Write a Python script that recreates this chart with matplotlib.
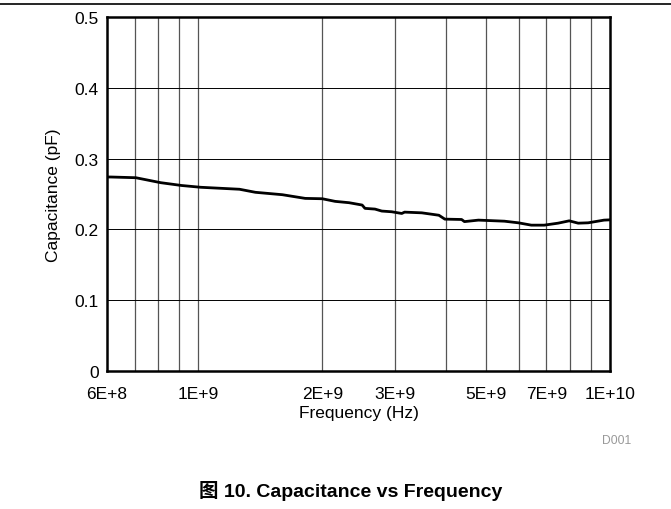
import matplotlib.pyplot as plt
import matplotlib.ticker as mticker

plt.rcParams['font.family'] = ['Liberation Sans', 'Noto Sans CJK SC', 'DejaVu Sans']

# данные
freq_hz = [6.00e8, 6.13e8, 7.05e8, 8.10e8, 9.11e8, 1.013e9, 1.259e9, 1.376e9,
           1.60e9, 1.818e9, 2.0e9, 2.149e9, 2.324e9, 2.50e9, 2.54e9, 2.686e9,
           2.79e9, 2.95e9, 3.12e9, 3.17e9, 3.49e9, 3.84e9, 3.97e9, 4.36e9,
           4.43e9, 4.79e9, 5.54e9, 5.99e9, 6.44e9, 6.92e9, 7.48e9, 7.96e9,
           8.37e9, 8.85e9, 9.67e9, 1.0e10]
cap_pf = [0.274, 0.274, 0.273, 0.266, 0.262, 0.2595, 0.2567, 0.2524,
          0.249, 0.2438, 0.2433, 0.2396, 0.2377, 0.2344, 0.2297, 0.2287,
          0.2259, 0.2249, 0.2225, 0.2244, 0.2234, 0.220, 0.2145, 0.214,
          0.211, 0.2131, 0.2116, 0.2093, 0.206, 0.206, 0.2088, 0.2121,
          0.2088, 0.2093, 0.2131, 0.2135]

xtick_vals = [6e8, 1e9, 2e9, 3e9, 5e9, 7e9, 1e10]
xtick_labels = ['6E+8', '1E+9', '2E+9', '3E+9', '5E+9', '7E+9', '1E+10']
grid_x = [7e8, 8e8, 9e8, 1e9, 2e9, 3e9, 4e9, 5e9, 6e9, 7e9, 8e9, 9e9]
ytick_vals = [0, 0.1, 0.2, 0.3, 0.4, 0.5]
ytick_labels = ['0', '0.1', '0.2', '0.3', '0.4', '0.5']

fs = 12.5

fig = plt.figure(figsize=(6.71, 5.10), dpi=100)
ax = fig.add_axes([107 / 671, 1 - 372 / 510, 503 / 671, 354 / 510])

# сетка
for gx in grid_x:
    ax.axvline(gx, color='#555555', lw=0.9, zorder=1)
for gy in ytick_vals[1:-1]:
    ax.axhline(gy, color='black', lw=0.7, zorder=1)

ax.plot(freq_hz, cap_pf, color='black', lw=2.0, zorder=3)

ax.set_xscale('log')
ax.set_xlim(6e8, 1e10)
ax.set_ylim(0, 0.5)
ax.xaxis.set_major_locator(mticker.FixedLocator(xtick_vals))
ax.xaxis.set_major_formatter(mticker.FixedFormatter(xtick_labels))
ax.xaxis.set_minor_locator(mticker.NullLocator())
ax.set_yticks(ytick_vals)
ax.set_yticklabels(ytick_labels)
ax.tick_params(length=0, labelsize=fs)
ax.tick_params(axis='x', pad=11)
ax.tick_params(axis='y', pad=6)

for s in ax.spines.values():
    s.set_linewidth(1.8)

ax.set_xlabel('Frequency (Hz)', fontsize=fs, labelpad=3)
ax.set_ylabel('Capacitance (pF)', fontsize=fs, labelpad=10)

fig.text(631 / 671, 1 - 441 / 510, 'D001', fontsize=8.7, color='#999999',
         ha='right', va='center')

# верхняя разделительная линия
fig.add_artist(plt.Line2D([0, 1], [1 - 5 / 510, 1 - 5 / 510],
                          color='black', lw=1.2, transform=fig.transFigure))

fig.text(351 / 671, 1 - 491 / 510, '图 10. Capacitance vs Frequency',
         fontsize=14, fontweight='bold', ha='center', va='center')

fig.savefig('out.png', dpi=100)
